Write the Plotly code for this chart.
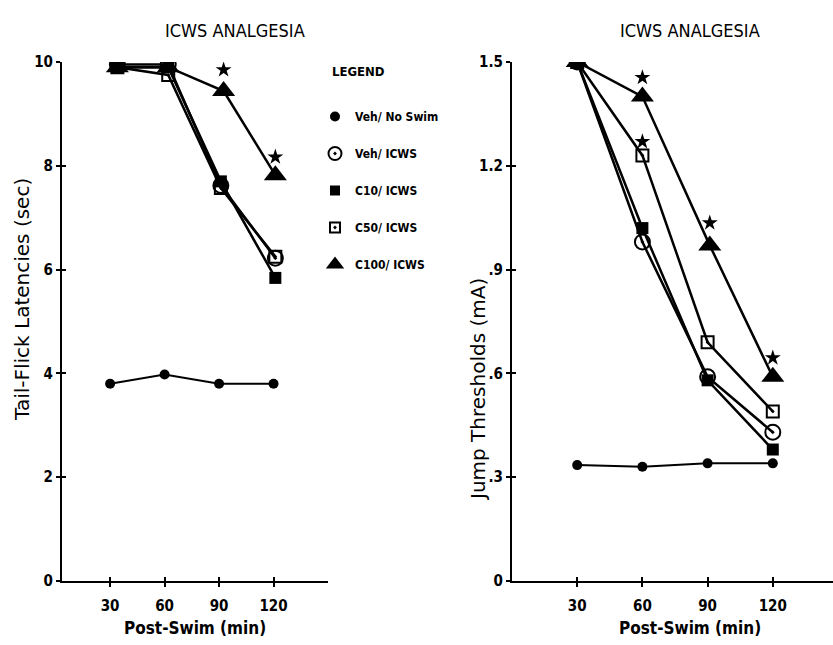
import plotly.graph_objects as go

# ---- data ----
time_ticks = [30, 60, 90, 120]
series_names = ["Veh/ No Swim", "Veh/ ICWS", "C10/ ICWS", "C50/ ICWS", "C100/ ICWS"]

# Left panel: tail-flick latencies (sec)
left_x_noswim = [30, 60, 90, 120]
left_x_treat = [34, 62, 91, 121]
left_x_c100 = [34, 62, 92.5, 121]
left_noswim = [3.80, 3.98, 3.80, 3.80]
left_veh = [9.95, 9.95, 7.62, 6.22]
left_c10 = [9.9, 9.9, 7.70, 5.84]
left_c50 = [9.9, 9.75, 7.57, 6.25]
left_c100 = [9.9, 9.9, 9.44, 7.82]
left_star_x = [92.5, 121]
left_star_y = [9.85, 8.17]

# Right panel: jump thresholds (mA)
right_x = [30, 60, 90, 120]
right_x_c100 = [30, 60, 91, 120]
right_noswim = [0.335, 0.33, 0.34, 0.34]
right_veh = [1.5, 0.98, 0.59, 0.43]
right_c10 = [1.5, 1.02, 0.58, 0.38]
right_c50 = [1.5, 1.23, 0.69, 0.49]
right_c100 = [1.5, 1.40, 0.97, 0.59]
right_star_x = [60, 60, 91, 120]
right_star_y = [1.455, 1.27, 1.035, 0.645]

left_yticks = [0, 2, 4, 6, 8, 10]
left_yticklabels = ["0", "2", "4", "6", "8", "10"]
right_yticks = [0, 0.3, 0.6, 0.9, 1.2, 1.5]
right_yticklabels = ["0", ".3", ".6", ".9", "1.2", "1.5"]

# ---- styles ----
BLACK = "#000000"
NARROW = "DejaVu Sans Condensed, Liberation Sans Narrow, Arial Narrow, sans-serif"
WIDE = "DejaVu Sans, Verdana, sans-serif"

styles = {
    "Veh/ No Swim": dict(symbol="circle", size=10, lw=0),
    "Veh/ ICWS": dict(symbol="circle-open-dot", size=15, lw=2),
    "C10/ ICWS": dict(symbol="square", size=12, lw=0),
    "C50/ ICWS": dict(symbol="square-open-dot", size=12, lw=2),
    "C100/ ICWS": dict(symbol="triangle-up", size=20, lw=0),
}

fig = go.Figure()

# empty traces so the inner-tick axes are drawn (drawn first, beneath data)
fig.add_trace(go.Scatter(x=[None], y=[None], xaxis="x3", yaxis="y3", showlegend=False,
                         hoverinfo="skip"))
fig.add_trace(go.Scatter(x=[None], y=[None], xaxis="x4", yaxis="y4", showlegend=False,
                         hoverinfo="skip"))


def add_series(x, y, name, xa, ya, width=2.5):
    s = styles[name]
    fig.add_trace(go.Scatter(
        x=x, y=y, mode="lines+markers", name=name, showlegend=False,
        xaxis=xa, yaxis=ya,
        line=dict(color=BLACK, width=width),
        marker=dict(symbol=s["symbol"], size=s["size"], color=BLACK,
                    line=dict(color=BLACK, width=s["lw"])),
        hoverinfo="x+y+name",
    ))


# left panel
add_series(left_x_noswim, left_noswim, "Veh/ No Swim", "x", "y", width=2)
add_series(left_x_treat, left_veh, "Veh/ ICWS", "x", "y")
add_series(left_x_treat, left_c10, "C10/ ICWS", "x", "y")
add_series(left_x_treat, left_c50, "C50/ ICWS", "x", "y")
add_series(left_x_c100, left_c100, "C100/ ICWS", "x", "y")
fig.add_trace(go.Scatter(x=left_star_x, y=left_star_y, mode="markers", showlegend=False,
                         xaxis="x", yaxis="y",
                         marker=dict(symbol="star", size=12, color=BLACK)))

# right panel
add_series(right_x, right_noswim, "Veh/ No Swim", "x2", "y2", width=2)
add_series(right_x, right_veh, "Veh/ ICWS", "x2", "y2")
add_series(right_x, right_c10, "C10/ ICWS", "x2", "y2")
add_series(right_x, right_c50, "C50/ ICWS", "x2", "y2")
add_series(right_x_c100, right_c100, "C100/ ICWS", "x2", "y2")
fig.add_trace(go.Scatter(x=right_star_x, y=right_star_y, mode="markers", showlegend=False,
                         xaxis="x2", yaxis="y2",
                         marker=dict(symbol="star", size=12, color=BLACK)))

# legend-only entries
legend_sizes = {"Veh/ No Swim": 10, "Veh/ ICWS": 13, "C10/ ICWS": 10,
                "C50/ ICWS": 10, "C100/ ICWS": 16}
for i, name in enumerate(series_names):
    s = styles[name]
    fig.add_trace(go.Scatter(
        x=[None], y=[None], mode="markers", name=name, legendgroup=f"g{i}",
        xaxis="x", yaxis="y",
        marker=dict(symbol=s["symbol"], size=legend_sizes[name], color=BLACK,
                    line=dict(color=BLACK, width=s["lw"])),
    ))

W, H = 833, 645
TOP, BOT = 62, 581
PH = BOT - TOP


def py(y):
    """pixel row -> paper y"""
    return (BOT - y) / PH


axis_common = dict(
    showline=True, linecolor=BLACK, linewidth=2, showgrid=False, zeroline=False,
    ticks="outside", ticklen=4, tickwidth=1.5, tickcolor=BLACK,
    tickfont=dict(family=NARROW, size=15, color=BLACK, weight="bold"),
    fixedrange=True,
)
inner_common = dict(
    showline=False, showgrid=False, zeroline=False, showticklabels=False,
    ticks="inside", ticklen=4, tickwidth=1.5, tickcolor=BLACK, fixedrange=True,
)

LX = [62 / W, 328 / W]
RX = [512 / W, 1.0]
L_RANGE = [3.5, 150]
R_RANGE = [0, 147.7]

fig.update_layout(
    width=W, height=H,
    margin=dict(l=0, r=0, t=TOP, b=H - BOT),
    paper_bgcolor="white", plot_bgcolor="rgba(0,0,0,0)",
    xaxis=dict(domain=LX, range=L_RANGE, tickvals=time_ticks,
               ticktext=[str(t) for t in time_ticks], anchor="y",
               ticklabelstandoff=6, **axis_common),
    yaxis=dict(domain=[0, 1], range=[0, 10], tickvals=left_yticks,
               ticktext=left_yticklabels, anchor="x", **axis_common),
    xaxis2=dict(domain=RX, range=R_RANGE, tickvals=time_ticks,
                ticktext=[str(t) for t in time_ticks], anchor="y2",
                ticklabelstandoff=6, **axis_common),
    yaxis2=dict(domain=[0, 1], range=[0, 1.5], tickvals=right_yticks,
                ticktext=right_yticklabels, anchor="x2", **axis_common),
    xaxis3=dict(domain=LX, range=L_RANGE, tickvals=time_ticks, anchor="y3", **inner_common),
    yaxis3=dict(domain=[0, 1], range=[0, 10], tickvals=left_yticks, anchor="x3",
                overlaying="y", **inner_common),
    xaxis4=dict(domain=RX, range=R_RANGE, tickvals=time_ticks, anchor="y4", **inner_common),
    yaxis4=dict(domain=[0, 1], range=[0, 1.5], tickvals=right_yticks, anchor="x4",
                overlaying="y2", **inner_common),
    legend=dict(x=315 / W, y=py(102), xanchor="left", yanchor="top",
                font=dict(family=NARROW, size=12, color=BLACK, weight="bold"),
                tracegroupgap=18, bgcolor="rgba(0,0,0,0)", itemclick=False),
    showlegend=True,
)

ann = [
    dict(text="ICWS ANALGESIA", x=235 / W, y=py(30), font=dict(family=NARROW, size=18)),
    dict(text="ICWS ANALGESIA", x=690 / W, y=py(30), font=dict(family=NARROW, size=18)),
    dict(text="<b>LEGEND</b>", x=358 / W, y=py(72), font=dict(family=NARROW, size=13)),
    dict(text="<b>Post-Swim (min)</b>", x=195 / W, y=py(628), font=dict(family=NARROW, size=17)),
    dict(text="<b>Post-Swim (min)</b>", x=690 / W, y=py(628), font=dict(family=NARROW, size=17)),
    dict(text="Tail-Flick Latencies (sec)", x=22 / W, y=py(300), textangle=-90,
         font=dict(family=WIDE, size=20)),
    dict(text="Jump Thresholds (mA)", x=478 / W, y=py(390), textangle=-90,
         font=dict(family=WIDE, size=20)),
]
for a in ann:
    f = a.pop("font")
    f.setdefault("color", BLACK)
    fig.add_annotation(xref="paper", yref="paper", showarrow=False,
                       xanchor="center", yanchor="middle", font=f, **a)

fig.write_html("out.html")
